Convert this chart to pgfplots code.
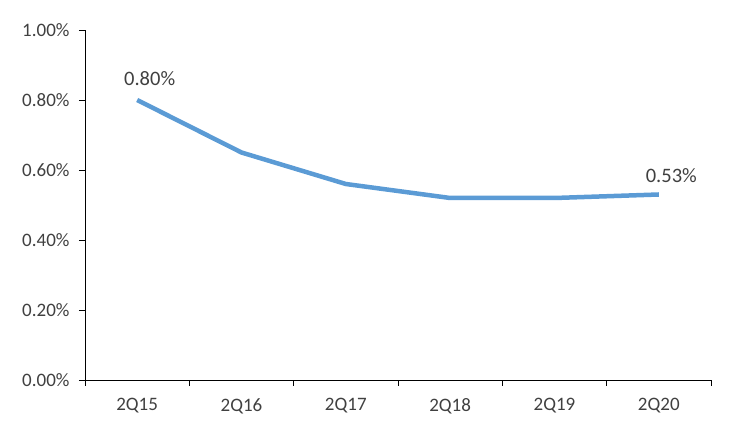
\documentclass[border=0pt]{standalone}
\usepackage{pgfplots}
\pgfplotsset{compat=1.18}
\usepackage{fontspec}
\setmainfont{Carlito}
\definecolor{lineblue}{HTML}{5B9BD5}
\definecolor{txt}{HTML}{404040}
\begin{document}
\begin{tikzpicture}[x=1pt,y=1pt]
\path[use as bounding box] (0,0) rectangle (750,431);
\begin{axis}[
    at={(85pt,51pt)}, anchor=south west,
    scale only axis,
    width=626pt, height=350pt,
    xmin=-0.5, xmax=5.5,
    ymin=0, ymax=1.0,
    axis lines*=left,
    axis line style={black, line width=0.8pt},
    xtick={-0.5,0.5,1.5,2.5,3.5,4.5,5.5},
    xticklabels={},
    extra x ticks={0,1,2,3,4,5},
    extra x tick labels={2Q15,2Q16,2Q17,2Q18,2Q19,2Q20},
    extra x tick style={major tick length=0pt, tick label style={yshift=-15pt}},
    ytick={0,0.2,0.4,0.6,0.8,1.0},
    yticklabels={0.00\%,0.20\%,0.40\%,0.60\%,0.80\%,1.00\%},
    y tick label style={xshift=-6pt},
    tick align=outside,
    major tick length=6pt,
    tick style={black, line width=0.8pt},
    xtick pos=bottom, ytick pos=left,
    tick label style={font=\fontsize{19}{22}\selectfont, text=txt},
    clip=false,
]
\addplot[lineblue, line width=4.5pt, line join=round] coordinates {
    (0,0.80) (1,0.65) (2,0.56) (3,0.52) (4,0.52) (5,0.53)};
\node[anchor=south, text=txt, font=\fontsize{20.5}{24}\selectfont] at (axis cs:0.12,0.83) {0.80\%};
\node[anchor=south, text=txt, font=\fontsize{20.5}{24}\selectfont] at (axis cs:5.12,0.555) {0.53\%};
\end{axis}
\end{tikzpicture}
\end{document}
